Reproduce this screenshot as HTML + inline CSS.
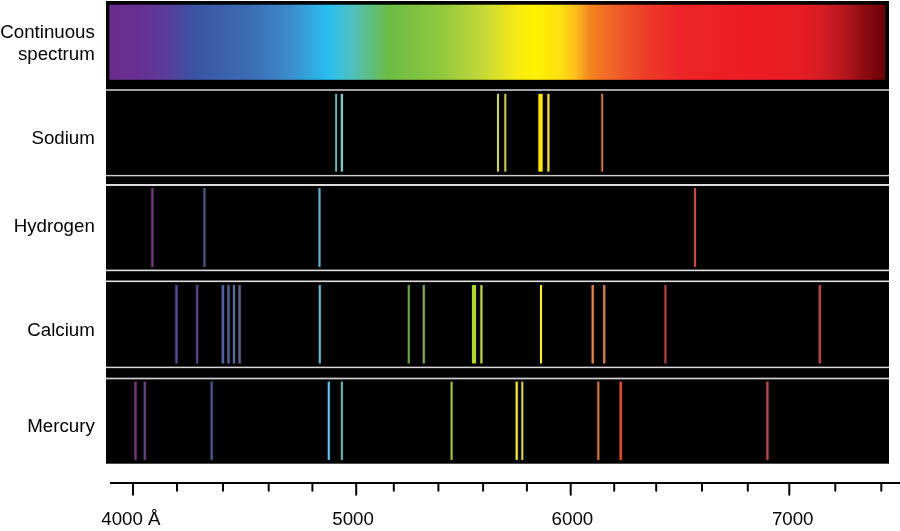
<!DOCTYPE html>
<html><head><meta charset="utf-8"><title>Spectra</title>
<style>
html,body{margin:0;padding:0;background:#fff;}
body{width:900px;height:531px;overflow:hidden;position:relative;font-family:"Liberation Sans",sans-serif;}
.t{filter:blur(0.35px);}
svg{position:absolute;left:0;top:0;display:block;}
text{font-family:"Liberation Sans",sans-serif;font-size:18.7px;fill:#000;}
</style></head><body>
<svg width="900" height="531" viewBox="0 0 900 531">
<defs><linearGradient id="g" x1="0" x2="1" y1="0" y2="0"><stop offset="0.0000" stop-color="#6a2c8e"/><stop offset="0.0395" stop-color="#662f93"/><stop offset="0.0717" stop-color="#5a3c9a"/><stop offset="0.1104" stop-color="#3a54a4"/><stop offset="0.1813" stop-color="#3c6cb4"/><stop offset="0.2329" stop-color="#3c8ccc"/><stop offset="0.2831" stop-color="#28c0f0"/><stop offset="0.3128" stop-color="#50c0c0"/><stop offset="0.3592" stop-color="#6cbc44"/><stop offset="0.4263" stop-color="#90c840"/><stop offset="0.4778" stop-color="#c0d838"/><stop offset="0.5113" stop-color="#e8e420"/><stop offset="0.5294" stop-color="#f8ec10"/><stop offset="0.5474" stop-color="#fff200"/><stop offset="0.5810" stop-color="#ffe010"/><stop offset="0.6003" stop-color="#fdc01c"/><stop offset="0.6196" stop-color="#f48420"/><stop offset="0.6480" stop-color="#f16428"/><stop offset="0.6906" stop-color="#ee3c28"/><stop offset="0.7357" stop-color="#ed2428"/><stop offset="0.8259" stop-color="#ed1c24"/><stop offset="0.8904" stop-color="#e81c24"/><stop offset="0.9201" stop-color="#d41c24"/><stop offset="0.9484" stop-color="#b4161e"/><stop offset="0.9716" stop-color="#900c12"/><stop offset="1.0000" stop-color="#6a0004"/></linearGradient></defs>
<rect x="0" y="0" width="900" height="531" fill="#fff"/>
<rect x="106" y="1" width="783" height="462.7" fill="#000"/>
<rect x="109.4" y="4.7" width="775.6" height="75.1" fill="url(#g)"/>
<rect x="106" y="89.00" width="783" height="2.00" fill="#a2a2a2"/>
<rect x="106" y="174.90" width="783" height="1.40" fill="#cfcfcf"/>
<rect x="106" y="184.00" width="783" height="2.00" fill="#dedede"/>
<rect x="106" y="269.60" width="783" height="1.60" fill="#e0e0e0"/>
<rect x="106" y="280.50" width="783" height="1.60" fill="#e0e0e0"/>
<rect x="106" y="366.65" width="783" height="1.50" fill="#d8d8d8"/>
<rect x="106" y="377.65" width="783" height="1.70" fill="#d0d0d0"/>

<rect x="334.40" y="93.40" width="3.40" height="78.70" fill="#111a19"/><rect x="335.20" y="93.90" width="1.80" height="77.70" fill="#76b7af"/>
<rect x="340.00" y="93.40" width="3.80" height="78.70" fill="#0f1817"/><rect x="340.80" y="93.90" width="2.20" height="77.70" fill="#81c6c2"/>
<rect x="496.20" y="93.40" width="3.60" height="78.70" fill="#121308"/><rect x="497.00" y="93.90" width="2.00" height="77.70" fill="#ccd15c"/>
<rect x="503.50" y="93.40" width="3.60" height="78.70" fill="#141508"/><rect x="504.30" y="93.90" width="2.00" height="77.70" fill="#c1c94c"/>
<rect x="537.55" y="93.40" width="5.90" height="78.70" fill="#141201"/><rect x="538.35" y="93.90" width="4.30" height="77.70" fill="#ffe610"/>
<rect x="546.50" y="93.40" width="3.80" height="78.70" fill="#131205"/><rect x="547.30" y="93.90" width="2.20" height="77.70" fill="#f0dc40"/>
<rect x="600.50" y="93.40" width="3.40" height="78.70" fill="#24150f"/><rect x="601.30" y="93.90" width="1.80" height="77.70" fill="#c97752"/>
<rect x="150.50" y="187.60" width="3.80" height="79.80" fill="#1a0f1d"/><rect x="151.30" y="188.10" width="2.20" height="78.80" fill="#6c3e79"/>
<rect x="202.60" y="187.60" width="3.60" height="79.80" fill="#14141f"/><rect x="203.40" y="188.10" width="2.00" height="78.80" fill="#535381"/>
<rect x="317.70" y="187.60" width="3.60" height="79.80" fill="#0f1a1f"/><rect x="318.50" y="188.10" width="2.00" height="78.80" fill="#68b3cf"/>
<rect x="693.20" y="187.60" width="3.60" height="79.80" fill="#2b110f"/><rect x="694.00" y="188.10" width="2.00" height="78.80" fill="#bf4b42"/>
<rect x="174.60" y="284.60" width="3.80" height="79.30" fill="#151223"/><rect x="175.40" y="285.10" width="2.20" height="78.30" fill="#574b92"/>
<rect x="195.30" y="284.60" width="3.60" height="79.30" fill="#151121"/><rect x="196.10" y="285.10" width="2.00" height="78.30" fill="#574789"/>
<rect x="221.00" y="284.60" width="3.80" height="79.30" fill="#151726"/><rect x="221.80" y="285.10" width="2.20" height="78.30" fill="#57609e"/>
<rect x="226.60" y="284.60" width="3.80" height="79.30" fill="#151724"/><rect x="227.40" y="285.10" width="2.20" height="78.30" fill="#596298"/>
<rect x="232.20" y="284.60" width="3.60" height="79.30" fill="#151922"/><rect x="233.00" y="285.10" width="2.00" height="78.30" fill="#5b6c95"/>
<rect x="237.70" y="284.60" width="3.80" height="79.30" fill="#171720"/><rect x="238.50" y="285.10" width="2.20" height="78.30" fill="#626289"/>
<rect x="318.00" y="284.60" width="3.60" height="79.30" fill="#0f1a1c"/><rect x="318.80" y="285.10" width="2.00" height="78.30" fill="#6eb9cb"/>
<rect x="407.00" y="284.60" width="3.60" height="79.30" fill="#141e0e"/><rect x="407.80" y="285.10" width="2.00" height="78.30" fill="#6fa04e"/>
<rect x="422.00" y="284.60" width="3.60" height="79.30" fill="#161b11"/><rect x="422.80" y="285.10" width="2.00" height="78.30" fill="#87a766"/>
<rect x="471.20" y="284.60" width="5.60" height="79.30" fill="#131705"/><rect x="472.00" y="285.10" width="4.00" height="78.30" fill="#b5d530"/>
<rect x="479.50" y="284.60" width="3.80" height="79.30" fill="#131507"/><rect x="480.30" y="285.10" width="2.20" height="78.30" fill="#bdd148"/>
<rect x="539.20" y="284.60" width="3.60" height="79.30" fill="#141303"/><rect x="540.00" y="285.10" width="2.00" height="78.30" fill="#fff020"/>
<rect x="590.80" y="284.60" width="3.80" height="79.30" fill="#23150c"/><rect x="591.60" y="285.10" width="2.20" height="78.30" fill="#dc8549"/>
<rect x="602.30" y="284.60" width="3.80" height="79.30" fill="#23150f"/><rect x="603.10" y="285.10" width="2.20" height="78.30" fill="#d07d56"/>
<rect x="663.60" y="284.60" width="3.60" height="79.30" fill="#291010"/><rect x="664.40" y="285.10" width="2.00" height="78.30" fill="#ab4343"/>
<rect x="817.90" y="284.60" width="3.80" height="79.30" fill="#2a1111"/><rect x="818.70" y="285.10" width="2.20" height="78.30" fill="#b64b4b"/>
<rect x="133.60" y="381.20" width="3.80" height="79.20" fill="#1b0e1d"/><rect x="134.40" y="381.70" width="2.20" height="78.20" fill="#703a79"/>
<rect x="143.00" y="381.20" width="3.60" height="79.20" fill="#181120"/><rect x="143.80" y="381.70" width="2.00" height="78.20" fill="#624785"/>
<rect x="209.90" y="381.20" width="3.60" height="79.20" fill="#131522"/><rect x="210.70" y="381.70" width="2.00" height="78.20" fill="#4f578d"/>
<rect x="327.00" y="381.20" width="3.60" height="79.20" fill="#0d191e"/><rect x="327.80" y="381.70" width="2.00" height="78.20" fill="#67c2f1"/>
<rect x="340.10" y="381.20" width="3.60" height="79.20" fill="#111b1a"/><rect x="340.90" y="381.70" width="2.00" height="78.20" fill="#72afa7"/>
<rect x="449.80" y="381.20" width="3.60" height="79.20" fill="#161908"/><rect x="450.60" y="381.70" width="2.00" height="78.20" fill="#aac241"/>
<rect x="514.80" y="381.20" width="3.80" height="79.20" fill="#131304"/><rect x="515.60" y="381.70" width="2.20" height="78.20" fill="#f0e838"/>
<rect x="520.50" y="381.20" width="3.60" height="79.20" fill="#121107"/><rect x="521.30" y="381.70" width="2.00" height="78.20" fill="#dcd45c"/>
<rect x="596.50" y="381.20" width="3.60" height="79.20" fill="#24160d"/><rect x="597.30" y="381.70" width="2.00" height="78.20" fill="#cd7b4a"/>
<rect x="618.80" y="381.20" width="3.80" height="79.20" fill="#301108"/><rect x="619.60" y="381.70" width="2.20" height="78.20" fill="#ef5229"/>
<rect x="765.50" y="381.20" width="3.80" height="79.20" fill="#281113"/><rect x="766.30" y="381.70" width="2.20" height="78.20" fill="#ae4b53"/>

<rect x="110" y="482" width="790" height="2" fill="#000"/>
<g stroke="#000" stroke-width="2" stroke-linecap="round"><line x1="133.0" y1="483" x2="133.0" y2="494.8" /><line x1="356.2" y1="483" x2="356.2" y2="494.8" /><line x1="570.7" y1="483" x2="570.7" y2="494.8" /><line x1="789.3" y1="483" x2="789.3" y2="494.8" /><line x1="177.0" y1="483" x2="177.0" y2="490.8" /><line x1="223.0" y1="483" x2="223.0" y2="490.8" /><line x1="268.7" y1="483" x2="268.7" y2="490.8" /><line x1="312.4" y1="483" x2="312.4" y2="490.8" /><line x1="393.8" y1="483" x2="393.8" y2="490.8" /><line x1="438.4" y1="483" x2="438.4" y2="490.8" /><line x1="483.1" y1="483" x2="483.1" y2="490.8" /><line x1="526.9" y1="483" x2="526.9" y2="490.8" /><line x1="614.2" y1="483" x2="614.2" y2="490.8" /><line x1="656.2" y1="483" x2="656.2" y2="490.8" /><line x1="702.0" y1="483" x2="702.0" y2="490.8" /><line x1="747.8" y1="483" x2="747.8" y2="490.8" /><line x1="835.3" y1="483" x2="835.3" y2="490.8" /><line x1="881.3" y1="483" x2="881.3" y2="490.8" /></g>
<g text-anchor="end" class="t">
<text x="94.8" y="37.6">Continuous</text>
<text x="94.8" y="60.3">spectrum</text>
<text x="94.8" y="144">Sodium</text>
<text x="94.8" y="232">Hydrogen</text>
<text x="94.8" y="336">Calcium</text>
<text x="94.8" y="432">Mercury</text>
</g>
<text x="101.3" y="524.6" class="t">4000 Å</text>
<g text-anchor="middle" class="t">
<text x="353.1" y="524.6">5000</text>
<text x="572.4" y="524.6">6000</text>
<text x="792.7" y="524.6">7000</text>
</g>
</svg>
</body></html>
